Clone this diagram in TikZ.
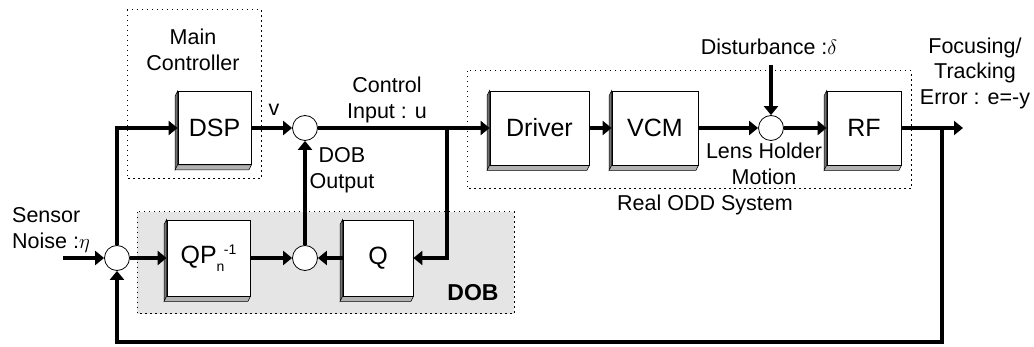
\documentclass[tikz,border=0pt]{standalone}
\usepackage{fontspec}
\setmainfont{Liberation Sans}
\usetikzlibrary{arrows.meta,calc}
\pgfdeclarelayer{bg}\pgfdeclarelayer{shade}
\pgfsetlayers{bg,shade,main}
\newcommand\blkshade[1]{%
 \begin{pgfonlayer}{shade}
 \filldraw[black!55, draw=black, line width=0.5pt] (#1.north west) -- ($(#1.north west)+(-2.5,5)$) -- ($(#1.south west)+(-2.5,5)$) -- (#1.south west) -- cycle;
 \filldraw[fill=black!30, draw=black, line width=0.5pt] (#1.south west) -- ($(#1.south west)+(-2.5,5)$) -- ($(#1.south east)+(-2.5,5)$) -- (#1.south east) -- cycle;
 \end{pgfonlayer}}
\newcommand\smallidx{\fontsize{14}{14}\selectfont}
\begin{document}
\begin{tikzpicture}[x=1pt,y=-1pt,
 lbl/.style={font=\fontsize{21.5}{25.5}\selectfont, align=center, inner sep=0pt},
 blk/.style={draw, line width=0.8pt, fill=white, font=\fontsize{25}{28}\selectfont, inner sep=0pt},
 sumj/.style={circle, draw, line width=0.8pt, fill=white, minimum size=25pt, inner sep=0pt},
 sig/.style={line width=3.5pt, -{Triangle[length=9pt,width=14pt]}},
 grp/.style={dash pattern=on 1.5pt off 3.5pt, line width=1pt}]
\useasboundingbox (0,0) rectangle (1034,347);

% groups
\begin{pgfonlayer}{bg}
 \draw[grp] (127,10) rectangle (261,179);
 \draw[grp] (467,71) rectangle (911,189);
 \filldraw[grp, fill=black!10] (137,212) rectangle (514,314);
\end{pgfonlayer}

% blocks
\node[blk, minimum width=73pt, minimum height=73pt] (dsp) at (214.5,128) {DSP};
\node[blk, minimum width=99pt, minimum height=74pt] (drv) at (539.5,128) {Driver};
\node[blk, minimum width=86pt, minimum height=74pt] (vcm) at (655,128) {VCM};
\node[blk, minimum width=74pt, minimum height=74pt] (rf) at (864,128) {RF};
\node[blk, minimum width=83pt, minimum height=76pt] (qp) at (208.5,258) {QP\raisebox{-8pt}{\smallidx n}\hspace{-0.5pt}\raisebox{9pt}{\smallidx -1}};
\node[blk, minimum width=70pt, minimum height=76pt] (q) at (378,258) {Q};
\blkshade{dsp}\blkshade{drv}\blkshade{vcm}\blkshade{rf}\blkshade{qp}\blkshade{q}

% summing junctions
\node[sumj] (s0) at (117,258) {};
\node[sumj] (s1) at (305,128) {};
\node[sumj] (s2) at (305,258) {};
\node[sumj] (s3) at (771,128) {};

% free ends
\coordinate (br) at (447,128);
\coordinate (dist) at (771,65);
\coordinate (noise) at (63,258);
\coordinate (out) at (963,128);
\coordinate (fbtop) at (942,128);
\coordinate (fbbot) at (942,342);

% connectors
\draw[sig] (s0.north) |- (dsp.west);
\draw[sig] (dsp.east) -- (s1.west);
\draw[sig] (s2.north) -- (s1.south);
\draw[sig] (s1.east) -- (drv.west);
\draw[sig] (br) |- (q.east);
\draw[sig] (drv.east) -- (vcm.west);
\draw[sig] (vcm.east) -- (s3.west);
\draw[sig] (dist) -- (s3.north);
\draw[sig] (s3.east) -- (rf.west);
\draw[sig] (rf.east) -- (out);
\draw[sig, line join=miter] (fbtop) -- (fbbot) -| (s0.south);
\draw[sig] (noise) -- (s0.west);
\draw[sig] (s0.east) -- (qp.west);
\draw[sig] (qp.east) -- (s2.west);
\draw[sig] (q.west) -- (s2.east);

% labels
\node[lbl] (lmain) at (193,50) {Main\\Controller};
\node[lbl] (lv) at (274,110) {v};
\node[lbl] (lctl) at (387,100) {Control\\Input : u};
\node[lbl] (ldob) at (342,170) {DOB\\Output};
\node[lbl] (ldist) at (769,47) {Disturbance :$\delta$};
\node[lbl] (lerr) at (975,73) {Focusing/\\Tracking\\Error : e=-y};
\node[lbl] (llens) at (764,164) {Lens Holder\\Motion};
\node[lbl] (lodd) at (705,205) {Real ODD System};
\node[lbl, align=left, anchor=west] (lsn) at (12,230) {Sensor\\Noise :$\eta$};
\node[lbl, font=\fontsize{23}{26}\selectfont\bfseries] (ldobb) at (473,293) {DOB};
\end{tikzpicture}
\end{document}
